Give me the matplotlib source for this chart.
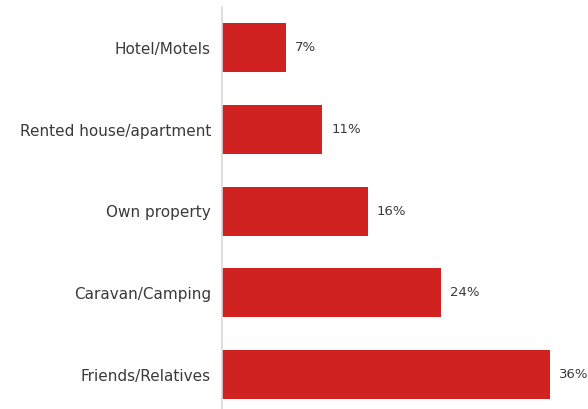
import matplotlib
matplotlib.use("Agg")
import matplotlib.pyplot as plt

categories = ["Friends/Relatives", "Caravan/Camping", "Own property",
              "Rented house/apartment", "Hotel/Motels"]
shares = [36, 24, 16, 11, 7]

BAR_COLOR = "#D12222"
TEXT_COLOR = "#3a3a3a"

fig = plt.figure(figsize=(5.88, 4.09), dpi=100)
ax = fig.add_axes([222 / 588, 0, 1 - 222 / 588, 1 - 7 / 409])

y = range(len(categories))
bars = ax.barh(y, shares, height=0.6, color=BAR_COLOR)

for bar, v in zip(bars, shares):
    ax.text(bar.get_width() + 1.0, bar.get_y() + bar.get_height() / 2,
            f"{v}%", va="center", ha="left", fontsize=9.5, color=TEXT_COLOR)

ax.set_xlim(0, 36 * 366 / 328)
ax.set_ylim(-0.42, 4.5)
ax.set_yticks(list(y))
ax.set_yticklabels(categories, fontsize=11, color=TEXT_COLOR)
ax.tick_params(axis="y", length=0, pad=8)
ax.set_xticks([])

for side in ["top", "right", "bottom"]:
    ax.spines[side].set_visible(False)
ax.spines["left"].set_color("#d9d9d9")
ax.spines["left"].set_linewidth(1.2)

fig.savefig("out.png", dpi=100)
